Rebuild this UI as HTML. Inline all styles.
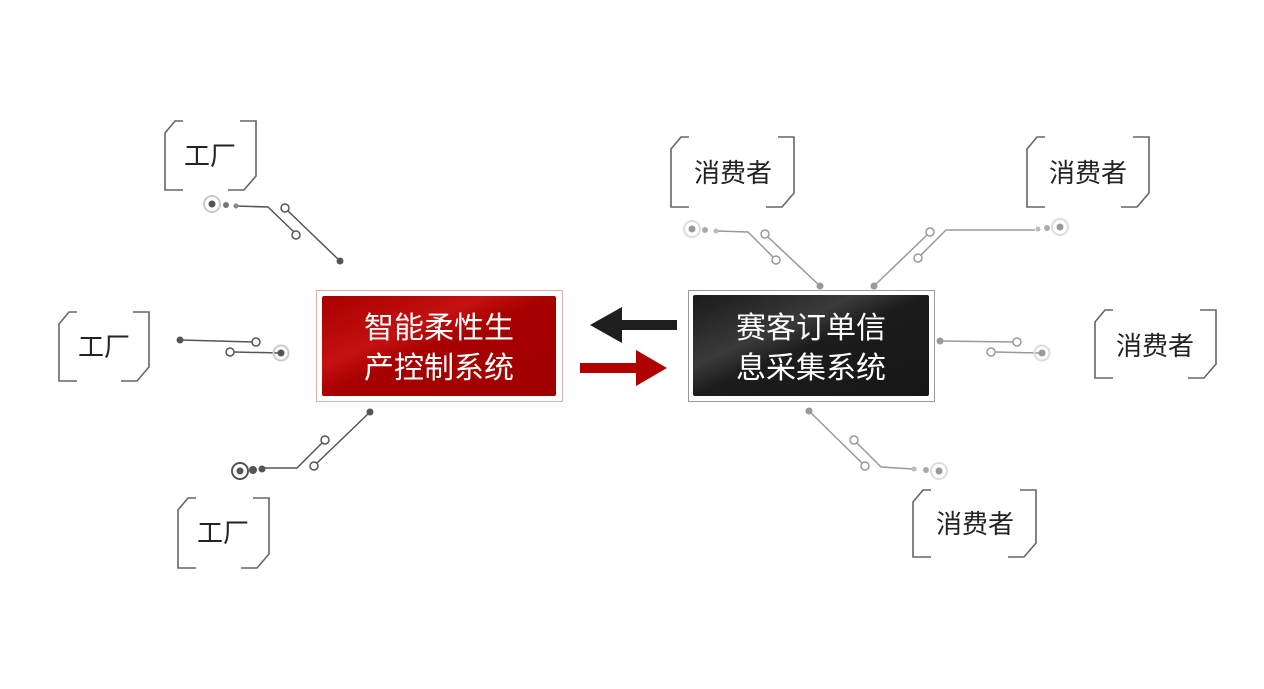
<!DOCTYPE html>
<html><head><meta charset="utf-8"><style>
html,body{margin:0;padding:0;background:#fff;}
svg{display:block;}
text{font-family:"Liberation Sans","Noto Sans CJK SC",sans-serif;}
</style></head><body>
<svg width="1264" height="689" viewBox="0 0 1264 689" xmlns="http://www.w3.org/2000/svg">
<defs>
<linearGradient id="rg" x1="0" y1="0" x2="1" y2="1">
<stop offset="0" stop-color="#a80000"/><stop offset="0.35" stop-color="#c41010"/><stop offset="0.5" stop-color="#a60000"/><stop offset="1" stop-color="#a00000"/>
</linearGradient>
<linearGradient id="bg" x1="0" y1="0" x2="1" y2="1">
<stop offset="0" stop-color="#1a1a1a"/><stop offset="0.35" stop-color="#3a3a3a"/><stop offset="0.5" stop-color="#1c1c1c"/><stop offset="1" stop-color="#161616"/>
</linearGradient>
</defs>
<g fill="none" stroke="#666" stroke-width="1.6">
<path d="M183 121 L175 121 L165 133 L165 190 L183 190"/><path d="M240 121 L256 121 L256 176 L244 190 L228 190"/>
<path d="M77 312 L69 312 L59 324 L59 381 L77 381"/><path d="M133 312 L149 312 L149 367 L137 381 L121 381"/>
<path d="M196 498 L188 498 L178 510 L178 568 L196 568"/><path d="M253 498 L269 498 L269 554 L257 568 L241 568"/>
<path d="M689 137 L681 137 L671 149 L671 207 L689 207"/><path d="M778 137 L794 137 L794 193 L782 207 L766 207"/>
<path d="M1045 137 L1037 137 L1027 149 L1027 207 L1045 207"/><path d="M1133 137 L1149 137 L1149 193 L1137 207 L1121 207"/>
<path d="M1113 310 L1105 310 L1095 322 L1095 378 L1113 378"/><path d="M1200 310 L1216 310 L1216 364 L1204 378 L1188 378"/>
<path d="M931 490 L923 490 L913 502 L913 557 L931 557"/><path d="M1020 490 L1036 490 L1036 543 L1024 557 L1008 557"/>
</g>
<g font-size="26" fill="#222" text-anchor="middle">
<text x="210" y="165">工厂</text>
<text x="104" y="356">工厂</text>
<text x="223" y="542">工厂</text>
<text x="733" y="182">消费者</text>
<text x="1088" y="182">消费者</text>
<text x="1155" y="355">消费者</text>
<text x="975" y="533">消费者</text>
</g>
<g stroke="#555" stroke-width="1.5" fill="none">
<path d="M236 206 L268 207 L294 232"/><path d="M287 210 L340 261"/>
<path d="M180 340 L253 342"/><path d="M234 352 L281 353"/>
<path d="M262 468 L297 468 L322 443"/><path d="M317 463 L370 412"/>
</g>
<g fill="#fff" stroke="#555" stroke-width="1.5">
<circle cx="285" cy="208" r="4"/><circle cx="296" cy="235" r="4"/>
<circle cx="256" cy="342" r="4"/><circle cx="230" cy="352" r="4"/>
<circle cx="325" cy="440" r="4"/><circle cx="314" cy="466" r="4"/>
</g>
<g fill="#555">
<circle cx="212" cy="204" r="8" fill="none" stroke="#ccc" stroke-width="2"/>
<circle cx="212" cy="204" r="3.5"/><circle cx="226" cy="205" r="3" fill="#777"/><circle cx="236" cy="206" r="2.5" fill="#888"/>
<circle cx="340" cy="261" r="3.5"/>
<circle cx="180" cy="340" r="3.5"/>
<circle cx="281" cy="353" r="7.5" fill="none" stroke="#ccc" stroke-width="2"/><circle cx="281" cy="353" r="3.5"/>
<circle cx="240" cy="471" r="8" fill="none" stroke="#555" stroke-width="2"/><circle cx="240" cy="471" r="3.5"/>
<circle cx="253" cy="470" r="4"/><circle cx="262" cy="469" r="3.5"/>
<circle cx="370" cy="412" r="3.5"/>
</g>
<g stroke="#999" stroke-width="1.5" fill="none">
<path d="M716 231 L748 232 L773 257"/><path d="M768 237 L820 286"/>
<path d="M1035 230 L946 230 L921 255"/><path d="M927 235 L874 286"/>
<path d="M940 341 L1013 342"/><path d="M995 352 L1042 353"/>
<path d="M809 411 L862 463"/><path d="M857 443 L881 467 L913 469"/>
</g>
<g fill="#fff" stroke="#999" stroke-width="1.5">
<circle cx="765" cy="234" r="4"/><circle cx="776" cy="260" r="4"/>
<circle cx="930" cy="232" r="4"/><circle cx="918" cy="258" r="4"/>
<circle cx="1017" cy="342" r="4"/><circle cx="991" cy="352" r="4"/>
<circle cx="854" cy="440" r="4"/><circle cx="865" cy="466" r="4"/>
</g>
<g fill="#999">
<circle cx="692" cy="229" r="8" fill="none" stroke="#ddd" stroke-width="2"/><circle cx="692" cy="229" r="3.5"/>
<circle cx="705" cy="230" r="3" fill="#aaa"/><circle cx="716" cy="231" r="2.5" fill="#bbb"/>
<circle cx="820" cy="286" r="3.5"/>
<circle cx="1060" cy="227" r="8" fill="none" stroke="#ddd" stroke-width="2"/><circle cx="1060" cy="227" r="3.5"/>
<circle cx="1047" cy="228" r="3" fill="#aaa"/><circle cx="1038" cy="229" r="2.5" fill="#bbb"/>
<circle cx="874" cy="286" r="3.5"/>
<circle cx="940" cy="341" r="3.5"/>
<circle cx="1042" cy="353" r="7.5" fill="none" stroke="#ddd" stroke-width="2"/><circle cx="1042" cy="353" r="3.5"/>
<circle cx="809" cy="411" r="3.5"/>
<circle cx="939" cy="471" r="8" fill="none" stroke="#ddd" stroke-width="2"/><circle cx="939" cy="471" r="3.5"/>
<circle cx="926" cy="470" r="3" fill="#aaa"/><circle cx="914" cy="469" r="2.5" fill="#bbb"/>
</g>
<rect x="316.5" y="290.5" width="246" height="111" fill="none" stroke="#e0b0b0" stroke-width="1"/>
<rect x="322" y="296" width="234" height="100" rx="2" fill="url(#rg)"/>
<g font-size="30" fill="#fff" text-anchor="middle">
<text x="439" y="338">智能柔性生</text>
<text x="439" y="378">产控制系统</text>
</g>
<rect x="688.5" y="290.5" width="246" height="111" fill="none" stroke="#999" stroke-width="1"/>
<rect x="693" y="295" width="236" height="101" rx="2" fill="url(#bg)"/>
<g font-size="30" fill="#fff" text-anchor="middle">
<text x="811" y="338">赛客订单信</text>
<text x="811" y="378">息采集系统</text>
</g>
<path d="M677 320 L622 320 L622 307 L590 325 L622 343 L622 330 L677 330 Z" fill="#1e1e1e"/>
<path d="M580 363 L636 363 L636 350 L667 368 L636 386 L636 373 L580 373 Z" fill="#b00000"/>
</svg>
</body></html>
